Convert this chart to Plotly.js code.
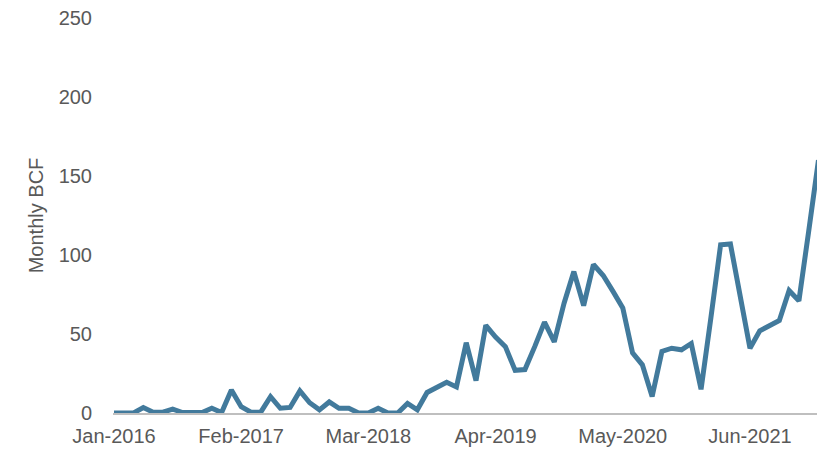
<!DOCTYPE html>
<html>
<head>
<meta charset="utf-8">
<script src="https://cdn.plot.ly/plotly-3.0.1.min.js"></script>
<style>html,body{margin:0;padding:0;background:#fff;}#chart{width:817px;height:452px;}</style>
</head>
<body>
<div id="chart"></div>
<script>
// Monthly labels Jan-2016 .. Jan-2022
const monthNames = ["Jan","Feb","Mar","Apr","May","Jun","Jul","Aug","Sep","Oct","Nov","Dec"];
const months = [];
for (let y = 2016; y <= 2022; y++) {
  for (let m = 0; m < 12; m++) {
    if (y === 2022 && m > 0) break;
    months.push(monthNames[m] + "-" + y);
  }
}
// Monthly BCF values
const bcf = [
  0, 0, 0, 3.5, 0.5, 0.5, 2.5, 0.3, 0.3, 0.3, 3, 0.3,
  14.5, 4, 0.5, 0.5, 10.3, 3, 3.5, 14, 6.5, 2, 7, 3,
  3, 0, 0, 3, 0, 0, 6, 2, 13, 16.5, 19.5, 16.5,
  44.5, 20.5, 55.5, 48, 42, 27, 27.5, 42, 57.5, 45, 69.5, 89.5,
  68, 94, 87, 77, 66.5, 38, 30.5, 10.5, 39, 41, 40, 44,
  15, 60, 106.5, 107, 76, 41, 52, 55.5, 58.5, 77.5, 71, 115,
  160
];
const xTickLabels = ["Jan-2016","Feb-2017","Mar-2018","Apr-2019","May-2020","Jun-2021"];
const yTicks = [0, 50, 100, 150, 200, 250];

const trace = {
  x: months,
  y: bcf,
  type: "scatter",
  mode: "lines",
  line: {color: "#427A9C", width: 5, shape: "linear"},
  hoverinfo: "x+y"
};

const font = {family: "Liberation Sans, Arial, sans-serif", color: "#595959", size: 20};

const layout = {
  width: 817,
  height: 452,
  margin: {l: 113, r: 0, t: 18, b: 39},
  paper_bgcolor: "#ffffff",
  plot_bgcolor: "#ffffff",
  showlegend: false,
  font: font,
  xaxis: {
    type: "category",
    range: [-0.1, 71.85],
    tickvals: xTickLabels,
    ticktext: xTickLabels,
    tickfont: font,
    showgrid: false,
    zeroline: false,
    showline: true,
    linecolor: "#BFBFBF",
    linewidth: 2,
    ticks: "",
    ticklabelstandoff: 4
  },
  yaxis: {
    range: [0, 250],
    tickvals: yTicks,
    tickfont: font,
    showgrid: false,
    zeroline: false,
    showline: false,
    ticks: "",
    ticklabelstandoff: 20,
    title: {text: "Monthly BCF", font: {family: font.family, color: "#595959", size: 20}, standoff: 9}
  }
};

Plotly.newPlot("chart", [trace], layout, {displayModeBar: false, staticPlot: true});
</script>
</body>
</html>
